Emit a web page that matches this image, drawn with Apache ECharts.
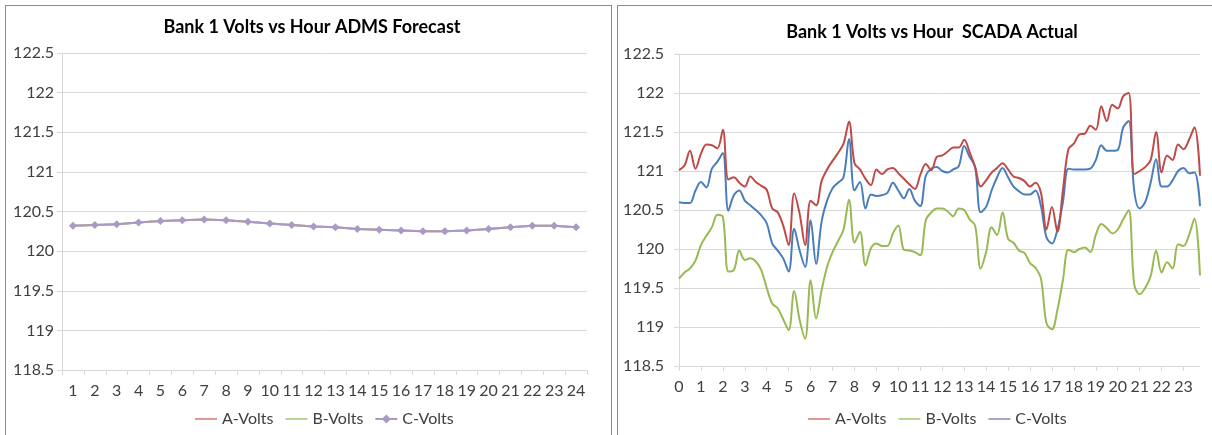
<!DOCTYPE html>
<html>
<head>
<meta charset="utf-8">
<script src="https://cdn.jsdelivr.net/npm/echarts@6/dist/echarts.min.js"></script>
<style>
  html, body { margin: 0; padding: 0; background: #fff; }
  #wrap { position: relative; width: 1212px; height: 435px; overflow: hidden; }
  .frame { position: absolute; border: 1px solid #8c8c8c; box-sizing: border-box; }
  #chart { position: absolute; left: 0; top: 0; width: 1212px; height: 435px; }
</style>
</head>
<body>
<div id="wrap">
  <div class="frame" style="left:5px;top:5px;width:607px;height:450px;"></div>
  <div class="frame" style="left:617px;top:5px;width:620px;height:450px;"></div>
  <div id="chart"></div>
</div>
<script>
// Hourly forecast (hour 1..24) – all three phases share one profile
const forecastHours = ['1','2','3','4','5','6','7','8','9','10','11','12','13','14','15','16','17','18','19','20','21','22','23','24'];
const forecastVolts = [120.32,120.33,120.34,120.36,120.38,120.39,120.40,120.39,120.37,120.35,120.33,120.31,
                       120.30,120.28,120.27,120.26,120.25,120.25,120.26,120.28,120.30,120.32,120.32,120.30];

// SCADA readings every 15 minutes (96 samples), hour tick labels 0..23
const hourLabels = ['0','1','2','3','4','5','6','7','8','9','10','11','12','13','14','15','16','17','18','19','20','21','22','23'];
const scadaA = [
  120.60,120.59,120.59,120.75,120.86,120.79,121.03,121.12,121.23,120.49,120.69,120.75,120.62,120.56,120.50,120.43,120.33,120.07,119.98,119.88,119.71,120.26,119.98,119.77,
  120.37,119.81,120.35,120.62,120.78,120.85,120.92,121.41,120.75,120.86,120.52,120.70,120.68,120.69,120.72,120.85,120.75,120.65,120.77,120.62,120.55,120.94,121.03,121.05,
  121.00,120.98,121.02,121.06,121.32,121.18,121.05,120.47,120.54,120.75,120.92,121.04,120.92,120.80,120.74,120.70,120.70,120.75,120.55,120.15,120.07,120.25,120.60,121.03,
  121.02,121.02,121.02,121.03,121.14,121.33,121.26,121.26,121.27,121.56,121.64,120.75,120.52,120.60,120.85,121.15,120.80,120.80,120.88,121.00,121.04,120.97,120.98,120.55
];
const scadaB = [
  121.01,121.07,121.26,121.03,121.22,121.34,121.33,121.29,121.53,120.89,120.92,120.85,120.80,120.93,120.86,120.81,120.76,120.52,120.47,120.30,120.05,120.71,120.45,120.05,
  120.62,120.56,120.87,121.02,121.13,121.23,121.35,121.63,121.10,121.02,120.90,120.82,121.02,120.96,121.02,121.04,120.97,120.90,120.83,120.77,120.95,121.09,121.01,121.18,
  121.20,121.25,121.30,121.30,121.40,121.24,121.05,120.80,120.88,120.98,121.04,121.10,121.02,120.93,120.91,120.87,120.80,120.85,120.72,120.25,120.54,120.22,120.75,121.28,
  121.35,121.47,121.48,121.58,121.53,121.83,121.64,121.85,121.80,121.96,122.00,120.96,121.00,121.05,121.14,121.50,120.98,121.20,121.14,121.34,121.28,121.40,121.56,120.94
];
const scadaC = [
  119.62,119.70,119.75,119.85,120.05,120.17,120.28,120.44,120.41,119.71,119.73,119.98,119.86,119.88,119.84,119.73,119.50,119.30,119.24,119.10,118.96,119.46,119.09,118.85,
  119.60,119.11,119.47,119.77,119.96,120.10,120.25,120.63,120.08,120.22,119.79,120.01,120.07,120.04,120.04,120.20,120.30,119.99,119.98,119.96,119.92,120.37,120.47,120.52,
  120.52,120.48,120.42,120.52,120.50,120.38,120.30,119.75,119.96,120.28,120.18,120.47,120.13,120.08,119.98,119.95,119.82,119.76,119.62,119.05,118.97,119.22,119.60,119.99,
  119.96,120.00,120.02,119.96,120.18,120.32,120.27,120.20,120.25,120.38,120.50,119.55,119.42,119.50,119.65,119.98,119.70,119.83,119.75,120.06,120.04,120.18,120.39,119.66
];

// quarter-hour category names, e.g. "7:45"
const quarterSlots = [];
hourLabels.forEach(h => { for (let q = 0; q < 4; q++) quarterSlots.push(h + ':' + String(q * 15).padStart(2, '0')); });

const FONT = 'Lato, "Open Sans", sans-serif';
const TXT = '#404040';
const GRIDC = '#d9d9d9';

// legend glyphs: a plain stroke, and a stroke with a diamond marker
const LINE_ICON = 'path://M0,4.1H22V5.9H0Z';
const DIAMOND_ICON = 'path://M0,4.1H7.5L11,0.5L14.5,4.1H22V5.9H14.5L11,9.5L7.5,5.9H0Z';

function yAxisCfg(gridIndex, margin) {
  return {
    type: 'value', gridIndex, min: 118.5, max: 122.5, interval: 0.5,
    axisLine: { show: true, lineStyle: { color: GRIDC } },
    axisTick: { show: true, length: 5, lineStyle: { color: GRIDC } },
    splitLine: { lineStyle: { color: GRIDC, width: 1 } },
    axisLabel: { color: TXT, fontSize: 16, fontFamily: FONT, margin }
  };
}

function legendCfg(left, names, icons) {
  return {
    left, top: 406, itemWidth: 22, itemHeight: 10, itemGap: 12,
    data: names.map((n, i) => ({ name: n, icon: icons[i] })),
    textStyle: { color: TXT, fontSize: 16, fontFamily: FONT },
    selectedMode: false
  };
}

const chart = echarts.init(document.getElementById('chart'), null, { renderer: 'canvas' });
chart.setOption({
  backgroundColor: 'transparent',
  animation: false,
  title: [
    { text: 'Bank 1 Volts vs Hour ADMS Forecast', left: 307, top: 13, textAlign: 'center',
      textStyle: { fontSize: 18, fontWeight: 'bold', color: '#000', fontFamily: FONT } },
    { text: 'Bank 1 Volts vs Hour  SCADA Actual', left: 927, top: 18, textAlign: 'center',
      textStyle: { fontSize: 18, fontWeight: 'bold', color: '#000', fontFamily: FONT } }
  ],
  legend: [
    legendCfg(190, ['A-Volts','B-Volts','C-Volts'], [LINE_ICON, LINE_ICON, DIAMOND_ICON]),
    legendCfg(803, ['A-Volts','B-Volts','C-Volts'], [LINE_ICON, LINE_ICON, LINE_ICON])
  ],
  grid: [
    { left: 62, top: 53, width: 525, height: 317 },
    { left: 679, top: 54, width: 521, height: 312 }
  ],
  xAxis: [
    { type: 'category', gridIndex: 0, data: forecastHours, boundaryGap: true,
      axisLine: { lineStyle: { color: GRIDC } },
      axisTick: { show: true, length: 5, lineStyle: { color: GRIDC } },
      axisLabel: { color: TXT, fontSize: 16, fontFamily: FONT, margin: 13, interval: 0 } },
    { type: 'category', gridIndex: 1, data: quarterSlots, boundaryGap: false,
      axisLine: { lineStyle: { color: GRIDC } },
      axisTick: { show: true, length: 5, interval: 3, lineStyle: { color: GRIDC } },
      axisLabel: { color: TXT, fontSize: 16, fontFamily: FONT, margin: 13, interval: 3,
        formatter: v => v.split(':')[0] } }
  ],
  yAxis: [ yAxisCfg(0, 8), yAxisCfg(1, 15) ],
  series: [
    { name: 'A-Volts', type: 'line', xAxisIndex: 0, yAxisIndex: 0, data: forecastVolts,
      symbol: 'none', lineStyle: { color: '#dd8c89', width: 2 }, itemStyle: { color: '#dd8c89' }, z: 2 },
    { name: 'B-Volts', type: 'line', xAxisIndex: 0, yAxisIndex: 0, data: forecastVolts,
      symbol: 'none', lineStyle: { color: '#b5d18a', width: 2 }, itemStyle: { color: '#b5d18a' }, z: 3 },
    { name: 'C-Volts', type: 'line', xAxisIndex: 0, yAxisIndex: 0, data: forecastVolts,
      symbol: 'diamond', symbolSize: 8, showSymbol: true,
      lineStyle: { color: '#a899c6', width: 2 }, itemStyle: { color: '#a899c6' }, z: 4 },
    { name: 'A-Volts', type: 'line', xAxisIndex: 1, yAxisIndex: 1, data: scadaA, smooth: 0.35,
      symbol: 'none', lineStyle: { color: '#4a7ebb', width: 2 }, itemStyle: { color: '#4a7ebb' } },
    { name: 'B-Volts', type: 'line', xAxisIndex: 1, yAxisIndex: 1, data: scadaB, smooth: 0.35,
      symbol: 'none', lineStyle: { color: '#be4b48', width: 2 }, itemStyle: { color: '#be4b48' } },
    { name: 'C-Volts', type: 'line', xAxisIndex: 1, yAxisIndex: 1, data: scadaC, smooth: 0.35,
      symbol: 'none', lineStyle: { color: '#98b954', width: 2 }, itemStyle: { color: '#98b954' } }
  ]
});
</script>
</body>
</html>
